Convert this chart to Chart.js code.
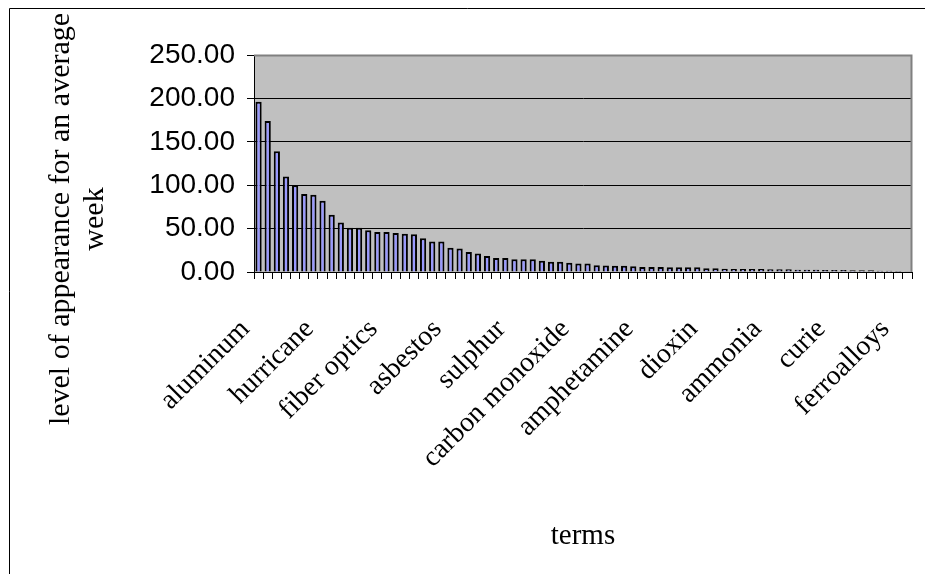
<!DOCTYPE html>
<html>
<head>
<meta charset="utf-8">
<script src="https://cdn.jsdelivr.net/npm/chart.js@4/dist/chart.umd.min.js"></script>
<style>
  html, body { margin: 0; padding: 0; background: #ffffff; }
  #wrap { position: relative; width: 925px; height: 574px; }
  canvas { display: block; }
</style>
</head>
<body>
<div id="wrap"><canvas id="c" width="925" height="574"></canvas></div>
<script>
// Terms shown as tick labels (every 7th term of the ranked list)
const shownTerms = ['aluminum', 'hurricane', 'fiber optics', 'asbestos', 'sulphur',
  'carbon monoxide', 'amphetamine', 'dioxin', 'ammonia', 'curie', 'ferroalloys'];
const labelEvery = 7;

// Level of appearance for an average week, ranked (72 terms)
const appearance = [
  196, 174, 139, 110, 100, 90, 89, 82, 66, 57, 51, 51, 48, 46, 46, 45, 44, 43.5, 39, 35, 35, 28, 27, 23,
  21.3, 18.5, 16, 16, 14.6, 14.6, 14.6, 13, 11.8, 11.8, 10.6, 9.8, 9.8, 7.9, 7.5, 7.1, 7.1, 6.7, 5.9, 5.9,
  5.9, 5.5, 5.4, 5.4, 5.4, 4.2, 4.2, 3.8, 3.5, 3.5, 3.5, 3.5, 3.1, 3.1, 3.1, 2.7, 2.7, 2.7, 2.3, 2.3,
  2.3, 1.9, 1.9, 1.9, 1.5, 1.5, 1.2, 0.8
];

const yTicks = [0, 50, 100, 150, 200, 250];
const yTitleLines = ['level of appearance for an average', 'week'];
const xTitle = 'terms';

const categories = appearance.map((v, i) =>
  (i % labelEvery === 0 && shownTerms[i / labelEvery]) ? shownTerms[i / labelEvery] : '');

const PLOT = { left: 254, right: 912, top: 55, bottom: 272 };
const W = 925, H = 574;
const PAD_BOTTOM = 12;

const framePlugin = {
  id: 'frame',
  beforeDraw(chart) {
    const { ctx, chartArea: a } = chart;
    ctx.save();
    ctx.fillStyle = '#c0c0c0';
    ctx.fillRect(a.left, a.top, a.right - a.left, a.bottom - a.top);
    ctx.restore();
  },
  afterDraw(chart) {
    const { ctx, chartArea: a } = chart;
    ctx.save();
    // plot-area border (grey)
    ctx.strokeStyle = '#808080';
    ctx.lineWidth = 2;
    ctx.beginPath();
    ctx.moveTo(a.left, a.top + 0.5);
    ctx.lineTo(a.right - 0.5, a.top + 0.5);
    ctx.lineTo(a.right - 0.5, a.bottom);
    ctx.stroke();
    // outer chart frame
    ctx.strokeStyle = '#000000';
    ctx.lineWidth = 1;
    ctx.beginPath();
    ctx.moveTo(9.5, H);
    ctx.lineTo(9.5, 8.5);
    ctx.lineTo(W, 8.5);
    ctx.stroke();
    // y-axis title (two centred lines)
    ctx.fillStyle = '#000000';
    ctx.font = '30px "Liberation Serif"';
    ctx.textAlign = 'center';
    ctx.textBaseline = 'middle';
    ctx.translate(61, 219);
    ctx.rotate(-Math.PI / 2);
    yTitleLines.forEach((t, i) => ctx.fillText(t, 0, i * 34));
    ctx.restore();
  }
};

new Chart(document.getElementById('c'), {
  type: 'bar',
  data: {
    labels: categories,
    datasets: [{
      data: appearance,
      backgroundColor: '#9999ff',
      borderColor: '#000000',
      borderWidth: 2,
      categoryPercentage: 1.0,
      barPercentage: 0.68
    }]
  },
  options: {
    responsive: false,
    animation: false,
    devicePixelRatio: 1,
    layout: { padding: { left: 10, right: W - PLOT.right, top: PLOT.top, bottom: PAD_BOTTOM } },
    plugins: { legend: { display: false }, tooltip: { enabled: false } },
    scales: {
      x: {
        afterFit(s) {
          s.height = H - PLOT.bottom - PAD_BOTTOM;
          s.paddingLeft = 0;
          s.paddingRight = 0;
        },
        grid: { display: true, offset: true, drawOnChartArea: false, drawTicks: true, tickLength: 7, color: '#000000', lineWidth: 1 },
        border: { display: true, color: '#000000', width: 1 },
        ticks: {
          autoSkip: false,
          minRotation: 45, maxRotation: 45,
          padding: 34,
          labelOffset: -13,
          color: '#000000',
          font: { family: 'Liberation Serif', size: 28 }
        },
        title: {
          display: true,
          text: xTitle,
          color: '#000000',
          font: { family: 'Liberation Serif', size: 29, lineHeight: 1.2 },
          padding: { top: 0, bottom: 8 }
        }
      },
      y: {
        min: 0, max: 250,
        afterFit(s) {
          s.width = PLOT.left - 10;
          s.paddingTop = 0;
          s.paddingBottom = 0;
        },
        afterBuildTicks(s) { s.ticks = yTicks.map(v => ({ value: v })); },
        grid: { display: true, drawOnChartArea: true, drawTicks: true, tickLength: 7, color: '#000000', lineWidth: 1 },
        border: { display: true, color: '#000000', width: 1 },
        ticks: {
          padding: 12,
          color: '#000000',
          font: { family: 'Liberation Sans', size: 28 },
          callback: v => Number(v).toFixed(2)
        },
        title: { display: false }
      }
    }
  },
  plugins: [framePlugin]
});
</script>
</body>
</html>
